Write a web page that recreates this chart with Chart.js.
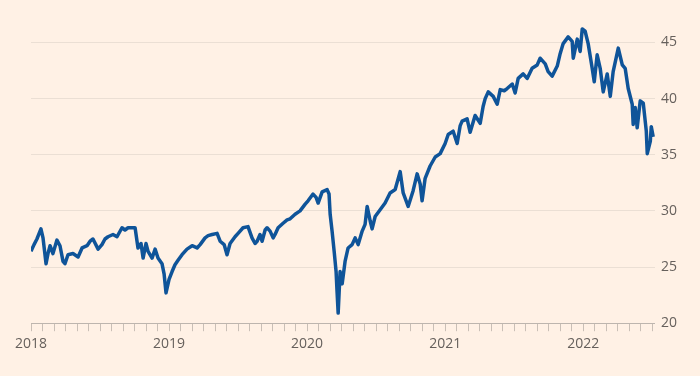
<!DOCTYPE html>
<html>
<head>
<meta charset="utf-8">
<script src="https://cdn.jsdelivr.net/npm/chart.js@4.4.1/dist/chart.umd.min.js"></script>
<style>
  html, body { margin: 0; padding: 0; background: #fff1e5; }
  #wrap { width: 700px; height: 376px; position: relative; }
</style>
</head>
<body>
<div id="wrap"><canvas id="chart"></canvas></div>
<script>
// Время в долях года (2018.0 = 1 января 2018)
const times = [
  2018.000, 2018.022, 2018.043, 2018.072, 2018.087, 2018.109, 2018.123, 2018.138, 2018.159, 2018.188,
  2018.210, 2018.232, 2018.246, 2018.268, 2018.304, 2018.341, 2018.370, 2018.406, 2018.428, 2018.449,
  2018.486, 2018.514, 2018.536, 2018.558, 2018.594, 2018.623, 2018.659, 2018.681, 2018.703, 2018.732,
  2018.754, 2018.775, 2018.797, 2018.812, 2018.833, 2018.848, 2018.877, 2018.899, 2018.920, 2018.949,
  2018.964, 2018.978, 2019.000, 2019.022, 2019.043, 2019.065, 2019.094, 2019.130, 2019.167, 2019.203,
  2019.225, 2019.261, 2019.283, 2019.312, 2019.348, 2019.370, 2019.399, 2019.420, 2019.442, 2019.478,
  2019.500, 2019.536, 2019.572, 2019.601, 2019.623, 2019.638, 2019.659, 2019.674, 2019.696, 2019.710,
  2019.732, 2019.754, 2019.768, 2019.790, 2019.826, 2019.855, 2019.877, 2019.913, 2019.949, 2019.986,
  2020.007, 2020.043, 2020.065, 2020.080, 2020.109, 2020.145, 2020.159, 2020.167, 2020.181, 2020.196,
  2020.210, 2020.217, 2020.225, 2020.239, 2020.254, 2020.275, 2020.297, 2020.326, 2020.348, 2020.370,
  2020.399, 2020.420, 2020.435, 2020.457, 2020.471, 2020.493, 2020.529, 2020.565, 2020.601, 2020.638,
  2020.674, 2020.696, 2020.732, 2020.768, 2020.797, 2020.819, 2020.833, 2020.855, 2020.891, 2020.928,
  2020.964, 2021.000, 2021.022, 2021.058, 2021.087, 2021.109, 2021.123, 2021.159, 2021.181, 2021.217,
  2021.254, 2021.275, 2021.290, 2021.312, 2021.348, 2021.377, 2021.399, 2021.428, 2021.449, 2021.486,
  2021.507, 2021.529, 2021.565, 2021.594, 2021.630, 2021.667, 2021.688, 2021.725, 2021.746, 2021.775,
  2021.812, 2021.833, 2021.855, 2021.891, 2021.920, 2021.928, 2021.957, 2021.978, 2021.993, 2022.014,
  2022.036, 2022.065, 2022.080, 2022.101, 2022.123, 2022.145, 2022.174, 2022.196, 2022.217, 2022.254,
  2022.283, 2022.304, 2022.326, 2022.355, 2022.362, 2022.377, 2022.391, 2022.413, 2022.435, 2022.457,
  2022.464, 2022.486, 2022.493, 2022.507
];

const values = [
  26.4, 27.0, 27.5, 28.4, 27.6, 25.3, 26.2, 26.9, 26.2, 27.4,
  26.9, 25.5, 25.3, 26.1, 26.2, 25.9, 26.7, 26.9, 27.3, 27.5,
  26.6, 27.0, 27.5, 27.7, 27.9, 27.7, 28.5, 28.3, 28.5, 28.5,
  28.5, 26.7, 27.1, 25.8, 27.1, 26.4, 25.8, 26.6, 25.8, 25.3,
  24.4, 22.7, 23.9, 24.6, 25.2, 25.6, 26.1, 26.6, 26.9, 26.7,
  27.0, 27.6, 27.8, 27.9, 28.0, 27.3, 27.0, 26.1, 27.1, 27.7,
  28.0, 28.5, 28.6, 27.6, 27.1, 27.3, 27.9, 27.3, 28.3, 28.5,
  28.2, 27.6, 27.9, 28.5, 28.9, 29.2, 29.3, 29.7, 30.0, 30.6,
  30.9, 31.5, 31.2, 30.7, 31.7, 31.9, 31.5, 29.7, 28.2, 26.4,
  24.6, 22.8, 20.9, 24.6, 23.5, 25.5, 26.7, 27.0, 27.6, 27.0,
  28.2, 28.8, 30.4, 29.1, 28.4, 29.5, 30.1, 30.7, 31.6, 31.9,
  33.5, 31.6, 30.4, 31.8, 33.3, 32.4, 30.9, 32.9, 34.0, 34.8,
  35.1, 36.0, 36.8, 37.1, 36.0, 37.6, 38.0, 38.2, 37.0, 38.5,
  37.8, 39.3, 40.0, 40.6, 40.2, 39.5, 40.8, 40.7, 40.9, 41.3,
  40.5, 41.8, 42.2, 41.8, 42.7, 43.0, 43.6, 43.1, 42.4, 42.0,
  42.9, 44.0, 44.9, 45.5, 45.1, 43.6, 45.3, 44.2, 46.2, 46.0,
  44.9, 42.7, 41.5, 43.9, 42.7, 40.6, 42.2, 40.2, 42.4, 44.5,
  43.0, 42.7, 40.9, 39.5, 37.7, 39.2, 37.4, 39.8, 39.6, 37.1,
  35.1, 36.2, 37.5, 36.6
];

const yearLabels = [2018, 2019, 2020, 2021, 2022];
const yTicks = [20, 25, 30, 35, 40, 45];

const BG = '#fff1e5';
const LINE = '#0f5499';
const TEXT = '#66605c';

// Отсечки по месяцам для оси X
function monthTicks() {
  const ticks = [];
  for (let m = 0; m <= 54; m++) {
    ticks.push({ value: yearLabels[0] + m / 12 });
  }
  return ticks;
}

const bgPlugin = {
  id: 'bg',
  beforeDraw(chart) {
    const { ctx, width, height } = chart;
    ctx.save();
    ctx.fillStyle = BG;
    ctx.fillRect(0, 0, width, height);
    ctx.restore();
  },
};

const ctx = document.getElementById('chart').getContext('2d');
new Chart(ctx, {
  type: 'line',
  data: {
    datasets: [{
      data: times.map((t, i) => ({ x: t, y: values[i] })),
      borderColor: LINE,
      backgroundColor: LINE,
      borderWidth: 3.5,
      pointRadius: 0,
      tension: 0,
      borderJoinStyle: 'round',
    }],
  },
  options: {
    responsive: true,
    maintainAspectRatio: false,
    animation: false,
    layout: { padding: { left: 31, right: 17, top: 2, bottom: 20 } },
    plugins: { legend: { display: false }, tooltip: { enabled: false } },
    scales: {
      x: {
        type: 'linear',
        min: 2018,
        max: 2022.52,
        afterBuildTicks: (scale) => { scale.ticks = monthTicks(); },
        grid: {
          drawOnChartArea: false,
          drawTicks: true,
          tickLength: 8,
          tickColor: '#c9bfb6',
        },
        border: { display: true, color: '#bdb5ae', width: 1 },
        ticks: {
          autoSkip: false,
          maxRotation: 0,
          padding: 4,
          color: TEXT,
          font: { family: 'Open Sans', size: 14 },
          callback: (v) => {
            const r = Math.round(v);
            return Math.abs(v - r) < 1e-6 && yearLabels.includes(r) ? String(r) : '';
          },
        },
      },
      y: {
        position: 'right',
        min: 20,
        max: 47.5,
        afterBuildTicks: (scale) => { scale.ticks = yTicks.map((v) => ({ value: v })); },
        grid: {
          drawTicks: false,
          color: (c) => (c.tick && c.tick.value === 20 ? 'rgba(0,0,0,0)' : '#ebdfd4'),
        },
        border: { display: false },
        ticks: {
          padding: 6,
          color: TEXT,
          font: { family: 'Open Sans', size: 14 },
        },
      },
    },
  },
  plugins: [bgPlugin],
});
</script>
</body>
</html>
